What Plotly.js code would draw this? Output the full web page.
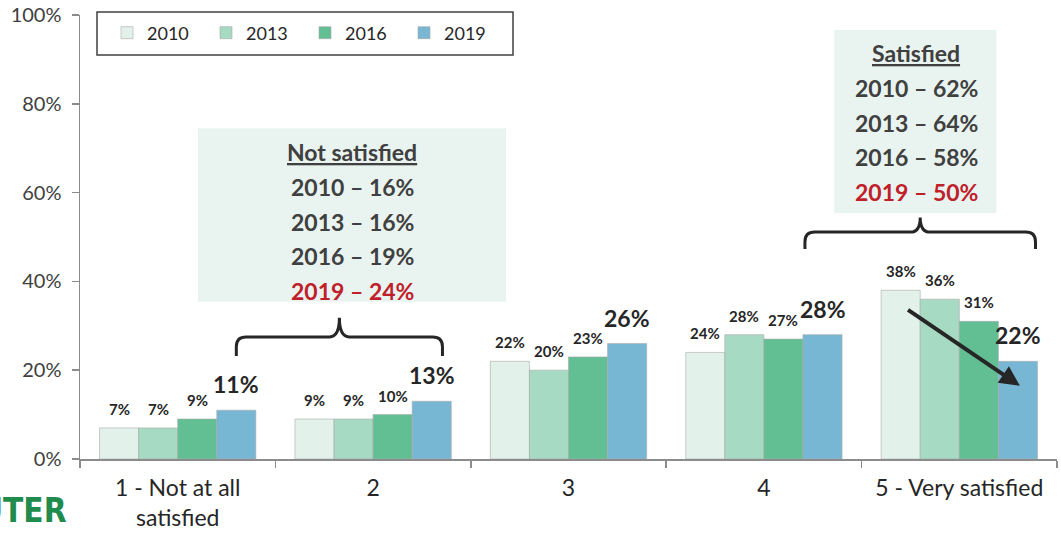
<!DOCTYPE html>
<html>
<head>
<meta charset="utf-8">
<script src="https://cdn.plot.ly/plotly-3.0.1.min.js"></script>
<style>html,body{margin:0;padding:0;background:#fff;}#chart{width:1061px;height:534px;}</style>
</head>
<body>
<div id="chart"></div>
<script>
// ---- data ----
const categories = ["1 - Not at all<br>satisfied", "2", "3", "4", "5 - Very satisfied"];
const years = ["2010", "2013", "2016", "2019"];
const v2010 = [7, 9, 22, 24, 38];
const v2013 = [7, 9, 20, 28, 36];
const v2016 = [9, 10, 23, 27, 31];
const v2019 = [11, 13, 26, 28, 22];
const notSatisfiedTitle = "Not satisfied";
const satisfiedTitle = "Satisfied";

// ---- styling ----
const series = [v2010, v2013, v2016, v2019];
const colors = ["#e3f1eb", "#a7dac2", "#62bf93", "#78b7d4"];
const FONT = "Lato, 'Open Sans', sans-serif";
const W = 1061, H = 534;
const M = {l: 80, r: 4, t: 15, b: 75};
const plotW = W - M.l - M.r;
const plotH = H - M.t - M.b;
const bargap = 0.2;
const barW = plotW / categories.length * (1 - bargap) / years.length;

const traces = years.map((yr, i) => ({
  type: "bar",
  name: yr,
  x: categories,
  y: series[i],
  marker: {color: colors[i], line: {color: "rgba(170,170,170,0.6)", width: 1}},
  hoverinfo: "x+y+name"
}));

const annotations = [];
// value labels
years.forEach((yr, i) => {
  const big = i === years.length - 1;
  series[i].forEach((v, c) => {
    annotations.push({
      x: c, y: v, xref: "x", yref: "y",
      text: v + "%", showarrow: false,
      xanchor: "center", yanchor: "bottom",
      xshift: (i - (years.length - 1) / 2) * barW,
      yshift: big ? 10 : 8,
      font: {family: FONT, size: big ? 23 : 15, color: "#262626", weight: "bold"}
    });
  });
});

// summary boxes (sums computed from the data)
const notSat = years.map((y, i) => series[i][0] + series[i][1]);
const sat = years.map((y, i) => series[i][3] + series[i][4]);

function boxLines(title, vals, cx, yTop, step) {
  annotations.push({
    x: cx, y: yTop, xref: "x", yref: "y", text: title, showarrow: false,
    xanchor: "center", yanchor: "middle",
    font: {family: FONT, size: 23, color: "#404040", weight: "bold", lineposition: "under"}
  });
  vals.forEach((v, i) => {
    annotations.push({
      x: cx, y: yTop - step * (i + 1), xref: "x", yref: "y",
      text: years[i] + " \u2013 " + v + "%", showarrow: false,
      xanchor: "center", yanchor: "middle",
      font: {family: FONT, size: 23, color: i === vals.length - 1 ? "#c0202a" : "#404040", weight: "bold"}
    });
  });
}
boxLines(notSatisfiedTitle, notSat, 0.892, 69.1, 7.83);
boxLines(satisfiedTitle, sat, 3.78, 91.4, 7.83);

// arrow on category 5
annotations.push({
  x: 4.31, y: 16.5, ax: 3.73, ay: 33.8, xref: "x", yref: "y", axref: "x", ayref: "y",
  showarrow: true, arrowhead: 2, arrowsize: 1, arrowwidth: 4, arrowcolor: "#262626", text: ""
});

// logo fragment (pixel positions converted to paper)
const toPX = x => (x - M.l) / plotW;
const toPY = y => (H - M.b - y) / plotH;
const LOGO = "'Liberation Sans Narrow', 'DejaVu Sans Condensed', sans-serif";
annotations.push({
  x: toPX(69), y: toPY(510), xref: "paper", yref: "paper", text: "UTER", showarrow: false,
  xanchor: "right", yanchor: "middle",
  font: {family: LOGO, size: 33, color: "#1f8b4c", weight: "bold"}
});
annotations.push({
  x: toPX(71), y: toPY(527), xref: "paper", yref: "paper", text: "TIONS", showarrow: false,
  xanchor: "right", yanchor: "top",
  font: {family: LOGO, size: 33, color: "#1f8b4c", weight: "bold"}
});

// shapes
const px = x => (x + 0.5) / categories.length;   // category units -> paper
const py = y => y / 100;
function brace(x0, x1, yEnd, yBar, yTip) {
  const rx = 0.05, ry = 2.2;
  const xm = (x0 + x1) / 2;
  const P = (x, y) => px(x).toFixed(5) + "," + py(y).toFixed(5);
  return "M" + P(x0, yEnd) + " L" + P(x0, yBar - ry) + " Q" + P(x0, yBar) + " " + P(x0 + rx, yBar) +
    " L" + P(xm - rx, yBar) + " Q" + P(xm, yBar) + " " + P(xm, yTip) +
    " Q" + P(xm, yBar) + " " + P(xm + rx, yBar) +
    " L" + P(x1 - rx, yBar) + " Q" + P(x1, yBar) + " " + P(x1, yBar - ry) + " L" + P(x1, yEnd);
}
const shapes = [
  // legend frame
  {type: "rect", xref: "paper", yref: "paper", x0: toPX(97), x1: toPX(513),
   y0: toPY(55), y1: toPY(12), line: {color: "#404040", width: 1.5}, fillcolor: "rgba(0,0,0,0)", layer: "above"},
  // summary box backgrounds
  {type: "rect", xref: "paper", yref: "paper", x0: px(0.104), x1: px(1.68), y0: py(35.4), y1: py(74.5),
   line: {width: 0}, fillcolor: "#e9f4f0", layer: "below"},
  {type: "rect", xref: "paper", yref: "paper", x0: px(3.36), x1: px(4.19), y0: py(55.4), y1: py(96.6),
   line: {width: 0}, fillcolor: "#e9f4f0", layer: "below"},
  // braces
  {type: "path", xref: "paper", yref: "paper", path: brace(0.30, 1.355, 23.2, 27.5, 31.8), line: {color: "#262626", width: 3}},
  {type: "path", xref: "paper", yref: "paper", path: brace(3.21, 4.39, 47.3, 51.1, 54.4), line: {color: "#262626", width: 3}}
];

const layout = {
  width: W, height: H,
  margin: M,
  paper_bgcolor: "#ffffff", plot_bgcolor: "rgba(0,0,0,0)",
  barmode: "group", bargap: bargap, bargroupgap: 0,
  font: {family: FONT, color: "#262626"},
  showlegend: true,
  legend: {orientation: "h", x: toPX(107), xanchor: "left", y: toPY(33), yanchor: "middle",
    entrywidth: 54, font: {family: FONT, size: 18, color: "#262626"}, bgcolor: "rgba(0,0,0,0)", borderwidth: 0,
    traceorder: "normal"},
  xaxis: {
    type: "category", range: [-0.5, categories.length - 0.5],
    showline: true, linecolor: "#8c8c8c", linewidth: 1.5,
    ticks: "outside", tickson: "boundaries", ticklen: 7, tickcolor: "#8c8c8c", tickwidth: 1.5,
    ticklabelstandoff: 8,
    tickfont: {family: FONT, size: 23, color: "#262626"}, showgrid: false, fixedrange: true
  },
  yaxis: {
    range: [0, 100], dtick: 20, ticksuffix: "%",
    showline: true, linecolor: "#8c8c8c", linewidth: 1.5,
    ticks: "outside", ticklen: 7, tickcolor: "#8c8c8c", tickwidth: 1.5,
    ticklabelstandoff: 6,
    tickfont: {family: FONT, size: 20, color: "#404040"}, showgrid: false, zeroline: false, fixedrange: true
  },
  annotations: annotations,
  shapes: shapes
};

Plotly.newPlot("chart", traces, layout, {displayModeBar: false, staticPlot: true});
</script>
</body>
</html>
